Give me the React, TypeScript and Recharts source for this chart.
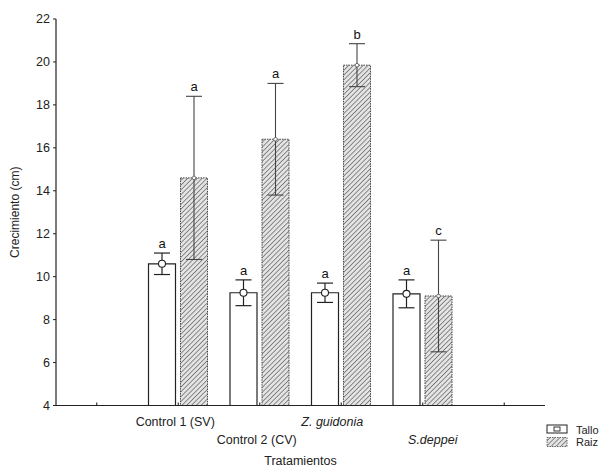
import { BarChart, Bar, XAxis, YAxis, ErrorBar, LabelList, Legend } from "recharts";

const categories = ["", "Control 1 (SV)", "Control 2 (CV)", "Z. guidonia", "S.deppei", ""];
const talloValues = [null, 10.6, 9.25, 9.25, 9.2, null];
const talloErrors = [null, 0.5, 0.6, 0.45, 0.65, null];
const raizValues = [null, 14.6, 16.4, 19.85, 9.1, null];
const raizErrors = [null, 3.8, 2.6, 1.0, 2.6, null];
const talloLetters = ["", "a", "a", "a", "a", ""];
const raizLetters = ["", "a", "a", "b", "c", ""];
const seriesNames = ["Tallo", "Raiz"];
const yTicks = [4, 6, 8, 10, 12, 14, 16, 18, 20, 22];
const italicCats = ["Z. guidonia", "S.deppei"];

const Y_MIN = 4;
const Y_MAX = 22;
const FONT = "'Liberation Sans', Arial, sans-serif";
const INK = "#222";

const data = categories.map((cat, i) => ({
  cat,
  tallo: talloValues[i],
  tErr: talloErrors[i],
  raiz: raizValues[i],
  rErr: raizErrors[i],
}));

// label nudges so the staggered names sit like the original
const labelDx = [0, -3, -3, -9, 10, 0];

function BottomTick(props: any) {
  const { x, y, payload } = props;
  const i = payload.index;
  const lower = i % 2 === 0;
  return (
    <g>
      <line x1={x} y1={y} x2={x} y2={y - 3} stroke={INK} strokeWidth={1.1} />
      {payload.value ? (
        <text
          x={x + labelDx[i]}
          y={y + (lower ? 38 : 20)}
          textAnchor="middle"
          fontSize={12.5}
          fill={INK}
          fontStyle={italicCats.includes(payload.value) ? "italic" : "normal"}
        >
          {payload.value}
        </text>
      ) : null}
    </g>
  );
}

function TopTick(props: any) {
  const { x, y } = props;
  return <line x1={x} y1={y} x2={x} y2={y + 3} stroke={INK} strokeWidth={1.1} />;
}

function RightTick(props: any) {
  const { x, y } = props;
  return <line x1={x} y1={y} x2={x - 3} y2={y} stroke={INK} strokeWidth={1.1} />;
}

function makeTopLabel(values: any[], errors: any[], letters: string[], big: boolean) {
  return (p: any) => {
    const i = categories.indexOf(p.value);
    if (!p.value || i < 0) return null;
    const v = values[i];
    if (v == null) return null;
    const vb = p.viewBox ?? p;
    const { x, y, width, height } = vb;
    const cx = x + width / 2;
    const perUnit = height / (v - Y_MIN);
    const capY = y - errors[i] * perUnit;
    return (
      <g>
        {big ? (
          <circle cx={cx} cy={y} r={3.5} fill="#fff" stroke={INK} strokeWidth={1.1} />
        ) : (
          <circle cx={cx} cy={y} r={1.8} fill="#fff" stroke="#555" strokeWidth={0.8} />
        )}
        <text x={cx} y={capY - 5} textAnchor="middle" fontSize={13} fill="#111" fontFamily={FONT}>
          {letters[i]}
        </text>
      </g>
    );
  };
}

function LegendBox() {
  return (
    <svg width={61} height={30} style={{ fontFamily: FONT }}>
      {seriesNames.map((name, k) => {
        const top = 2 + k * 12.5;
        return (
          <g key={name}>
            {k === 0 ? (
              <>
                <rect x={2} y={top} width={20} height={8} fill="#fff" stroke={INK} strokeWidth={1} />
                <rect x={9} y={top + 2} width={6} height={4} fill="#fff" stroke={INK} strokeWidth={0.9} />
              </>
            ) : (
              <rect x={2} y={top} width={20} height={9} fill="url(#hatch)" stroke="#666" strokeDasharray="1.5 1" />
            )}
            <text x={31} y={top + 8.5} fontSize={11} fill={INK}>
              {name}
            </text>
          </g>
        );
      })}
    </svg>
  );
}

export default function App() {
  return (
    <div style={{ position: "absolute", left: 0, top: 0, background: "#fff" }}>
      <BarChart
        width={606}
        height={468}
        data={data}
        margin={{ top: 19, right: 61, left: 6, bottom: 0.5 }}
        barSize={27}
        barGap={5}
        style={{ fontFamily: FONT }}
      >
        <defs>
          <pattern id="hatch" width="3.4" height="3.4" patternUnits="userSpaceOnUse" patternTransform="rotate(45)">
            <rect width="3.4" height="3.4" fill="#e4e4e4" />
            <line x1="0" y1="0" x2="0" y2="3.4" stroke="#4a4a4a" strokeWidth="1.2" />
          </pattern>
        </defs>

        <XAxis
          dataKey="cat"
          height={62}
          tickSize={0}
          tickMargin={0}
          tickLine={false}
          interval={0}
          axisLine={{ stroke: INK, strokeWidth: 1.2 }}
          tick={<BottomTick />}
          label={{ value: "Tratamientos", position: "insideBottom", offset: 3, fontSize: 12.5, fill: INK }}
        />
        <XAxis
          xAxisId="top"
          orientation="top"
          dataKey="cat"
          height={0}
          tickSize={0}
          tickMargin={0}
          tickLine={false}
          interval={0}
          axisLine={{ stroke: INK, strokeWidth: 1.2 }}
          tick={<TopTick />}
        />
        <YAxis
          width={50}
          domain={[Y_MIN, Y_MAX]}
          ticks={yTicks}
          allowDataOverflow
          tickSize={3}
          tickMargin={3}
          tick={{ fontSize: 12.5, fill: INK }}
          tickLine={{ stroke: INK }}
          axisLine={{ stroke: INK, strokeWidth: 1.2 }}
          label={{
            value: "Crecimiento (cm)",
            angle: -90,
            position: "insideLeft",
            offset: 9,
            fontSize: 12,
            fill: INK,
            style: { textAnchor: "middle" },
          }}
        />
        <YAxis
          yAxisId="right"
          orientation="right"
          width={0}
          domain={[Y_MIN, Y_MAX]}
          ticks={yTicks}
          allowDataOverflow
          tickSize={0}
          tickMargin={0}
          tickLine={false}
          tick={<RightTick />}
          axisLine={{ stroke: INK, strokeWidth: 1.2 }}
        />

        <Legend
          layout="horizontal"
          verticalAlign="middle"
          align="center"
          content={<LegendBox />}
          wrapperStyle={{ left: 545, top: 423, width: 61, height: 30 }}
        />

        <Bar
          dataKey="tallo"
          name={seriesNames[0]}
          fill="#fff"
          stroke={INK}
          strokeWidth={1.2}
          isAnimationActive={false}
        >
          <ErrorBar dataKey="tErr" width={8} stroke={INK} strokeWidth={1.2} direction="y" />
          <LabelList dataKey="cat" content={makeTopLabel(talloValues, talloErrors, talloLetters, true)} />
        </Bar>
        <Bar
          dataKey="raiz"
          name={seriesNames[1]}
          fill="url(#hatch)"
          stroke="#444"
          strokeWidth={1}
          strokeDasharray="1.5 1"
          isAnimationActive={false}
        >
          <ErrorBar dataKey="rErr" width={8} stroke="#444" strokeWidth={1.1} direction="y" />
          <LabelList dataKey="cat" content={makeTopLabel(raizValues, raizErrors, raizLetters, false)} />
        </Bar>
      </BarChart>
    </div>
  );
}
